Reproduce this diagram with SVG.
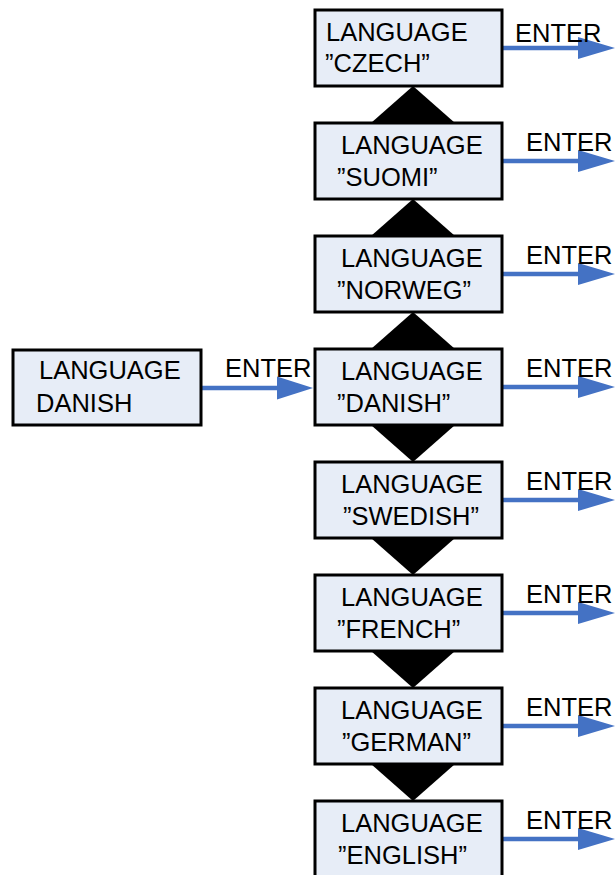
<svg xmlns="http://www.w3.org/2000/svg" width="616" height="875" viewBox="0 0 616 875">
<defs>
<style>
.box{fill:#E7EDF7;stroke:#000;stroke-width:3}
.tri{fill:#000}
.t{font-family:"Liberation Sans",Arial,sans-serif;font-size:25.5px;fill:#000}
.ln{stroke:#4472C4;stroke-width:4.5;fill:none}
.hd{fill:#4472C4}
</style>
</defs>
<rect width="616" height="875" fill="#fff"/>
<g id="selectors">
<polygon class="tri" points="413,86 371,123 455,123"/>
<polygon class="tri" points="413,199 371,236 455,236"/>
<polygon class="tri" points="413,312 371,349 455,349"/>
<polygon class="tri" points="371,425 455,425 413,462"/>
<polygon class="tri" points="371,538 455,538 413,575"/>
<polygon class="tri" points="371,651 455,651 413,688"/>
<polygon class="tri" points="371,764 455,764 413,801"/>
</g>
<g id="connectors">
<line class="ln" x1="201" y1="388" x2="280" y2="388"/>
<polygon class="hd" points="277,376.5 313,388 277,399.5"/>
<text class="t" x="225" y="377">ENTER</text>
<line class="ln" x1="502" y1="48" x2="581" y2="48"/>
<polygon class="hd" points="578,37 615,48 578,59"/>
<text class="t" x="515" y="42">ENTER</text>
<line class="ln" x1="502" y1="161" x2="581" y2="161"/>
<polygon class="hd" points="578,150 615,161 578,172"/>
<text class="t" x="526" y="151">ENTER</text>
<line class="ln" x1="502" y1="274" x2="581" y2="274"/>
<polygon class="hd" points="578,263 615,274 578,285"/>
<text class="t" x="526" y="264">ENTER</text>
<line class="ln" x1="502" y1="387" x2="581" y2="387"/>
<polygon class="hd" points="578,376 615,387 578,398"/>
<text class="t" x="526" y="377">ENTER</text>
<line class="ln" x1="502" y1="500" x2="581" y2="500"/>
<polygon class="hd" points="578,489 615,500 578,511"/>
<text class="t" x="526" y="490">ENTER</text>
<line class="ln" x1="502" y1="613" x2="581" y2="613"/>
<polygon class="hd" points="578,602 615,613 578,624"/>
<text class="t" x="526" y="603">ENTER</text>
<line class="ln" x1="502" y1="726" x2="581" y2="726"/>
<polygon class="hd" points="578,715 615,726 578,737"/>
<text class="t" x="526" y="716">ENTER</text>
<line class="ln" x1="502" y1="839" x2="581" y2="839"/>
<polygon class="hd" points="578,828 615,839 578,850"/>
<text class="t" x="526" y="829">ENTER</text>
</g>
<g id="start">
<rect class="box" x="13" y="350" width="188" height="75"/>
<text class="t" x="39" y="379">LANGUAGE</text>
<text class="t" x="36" y="412">DANISH</text>
</g>
<g id="czech">
<rect class="box" x="315" y="10" width="187" height="76"/>
<text class="t" x="326" y="41">LANGUAGE</text>
<text class="t" x="325" y="72">”CZECH”</text>
</g>
<g id="suomi">
<rect class="box" x="315" y="123" width="187" height="76"/>
<text class="t" x="341" y="154">LANGUAGE</text>
<text class="t" x="337" y="186">”SUOMI”</text>
</g>
<g id="norweg">
<rect class="box" x="315" y="236" width="187" height="76"/>
<text class="t" x="341" y="267">LANGUAGE</text>
<text class="t" x="337" y="299">”NORWEG”</text>
</g>
<g id="danish">
<rect class="box" x="315" y="349" width="187" height="76"/>
<text class="t" x="341" y="380">LANGUAGE</text>
<text class="t" x="337" y="412">”DANISH”</text>
</g>
<g id="swedish">
<rect class="box" x="315" y="462" width="187" height="76"/>
<text class="t" x="341" y="493">LANGUAGE</text>
<text class="t" x="343" y="525">”SWEDISH”</text>
</g>
<g id="french">
<rect class="box" x="315" y="575" width="187" height="76"/>
<text class="t" x="341" y="606">LANGUAGE</text>
<text class="t" x="337" y="638">”FRENCH”</text>
</g>
<g id="german">
<rect class="box" x="315" y="688" width="187" height="76"/>
<text class="t" x="341" y="719">LANGUAGE</text>
<text class="t" x="342" y="751">”GERMAN”</text>
</g>
<g id="english">
<rect class="box" x="315" y="801" width="187" height="76"/>
<text class="t" x="341" y="832">LANGUAGE</text>
<text class="t" x="338" y="864">”ENGLISH”</text>
</g>
</svg>
